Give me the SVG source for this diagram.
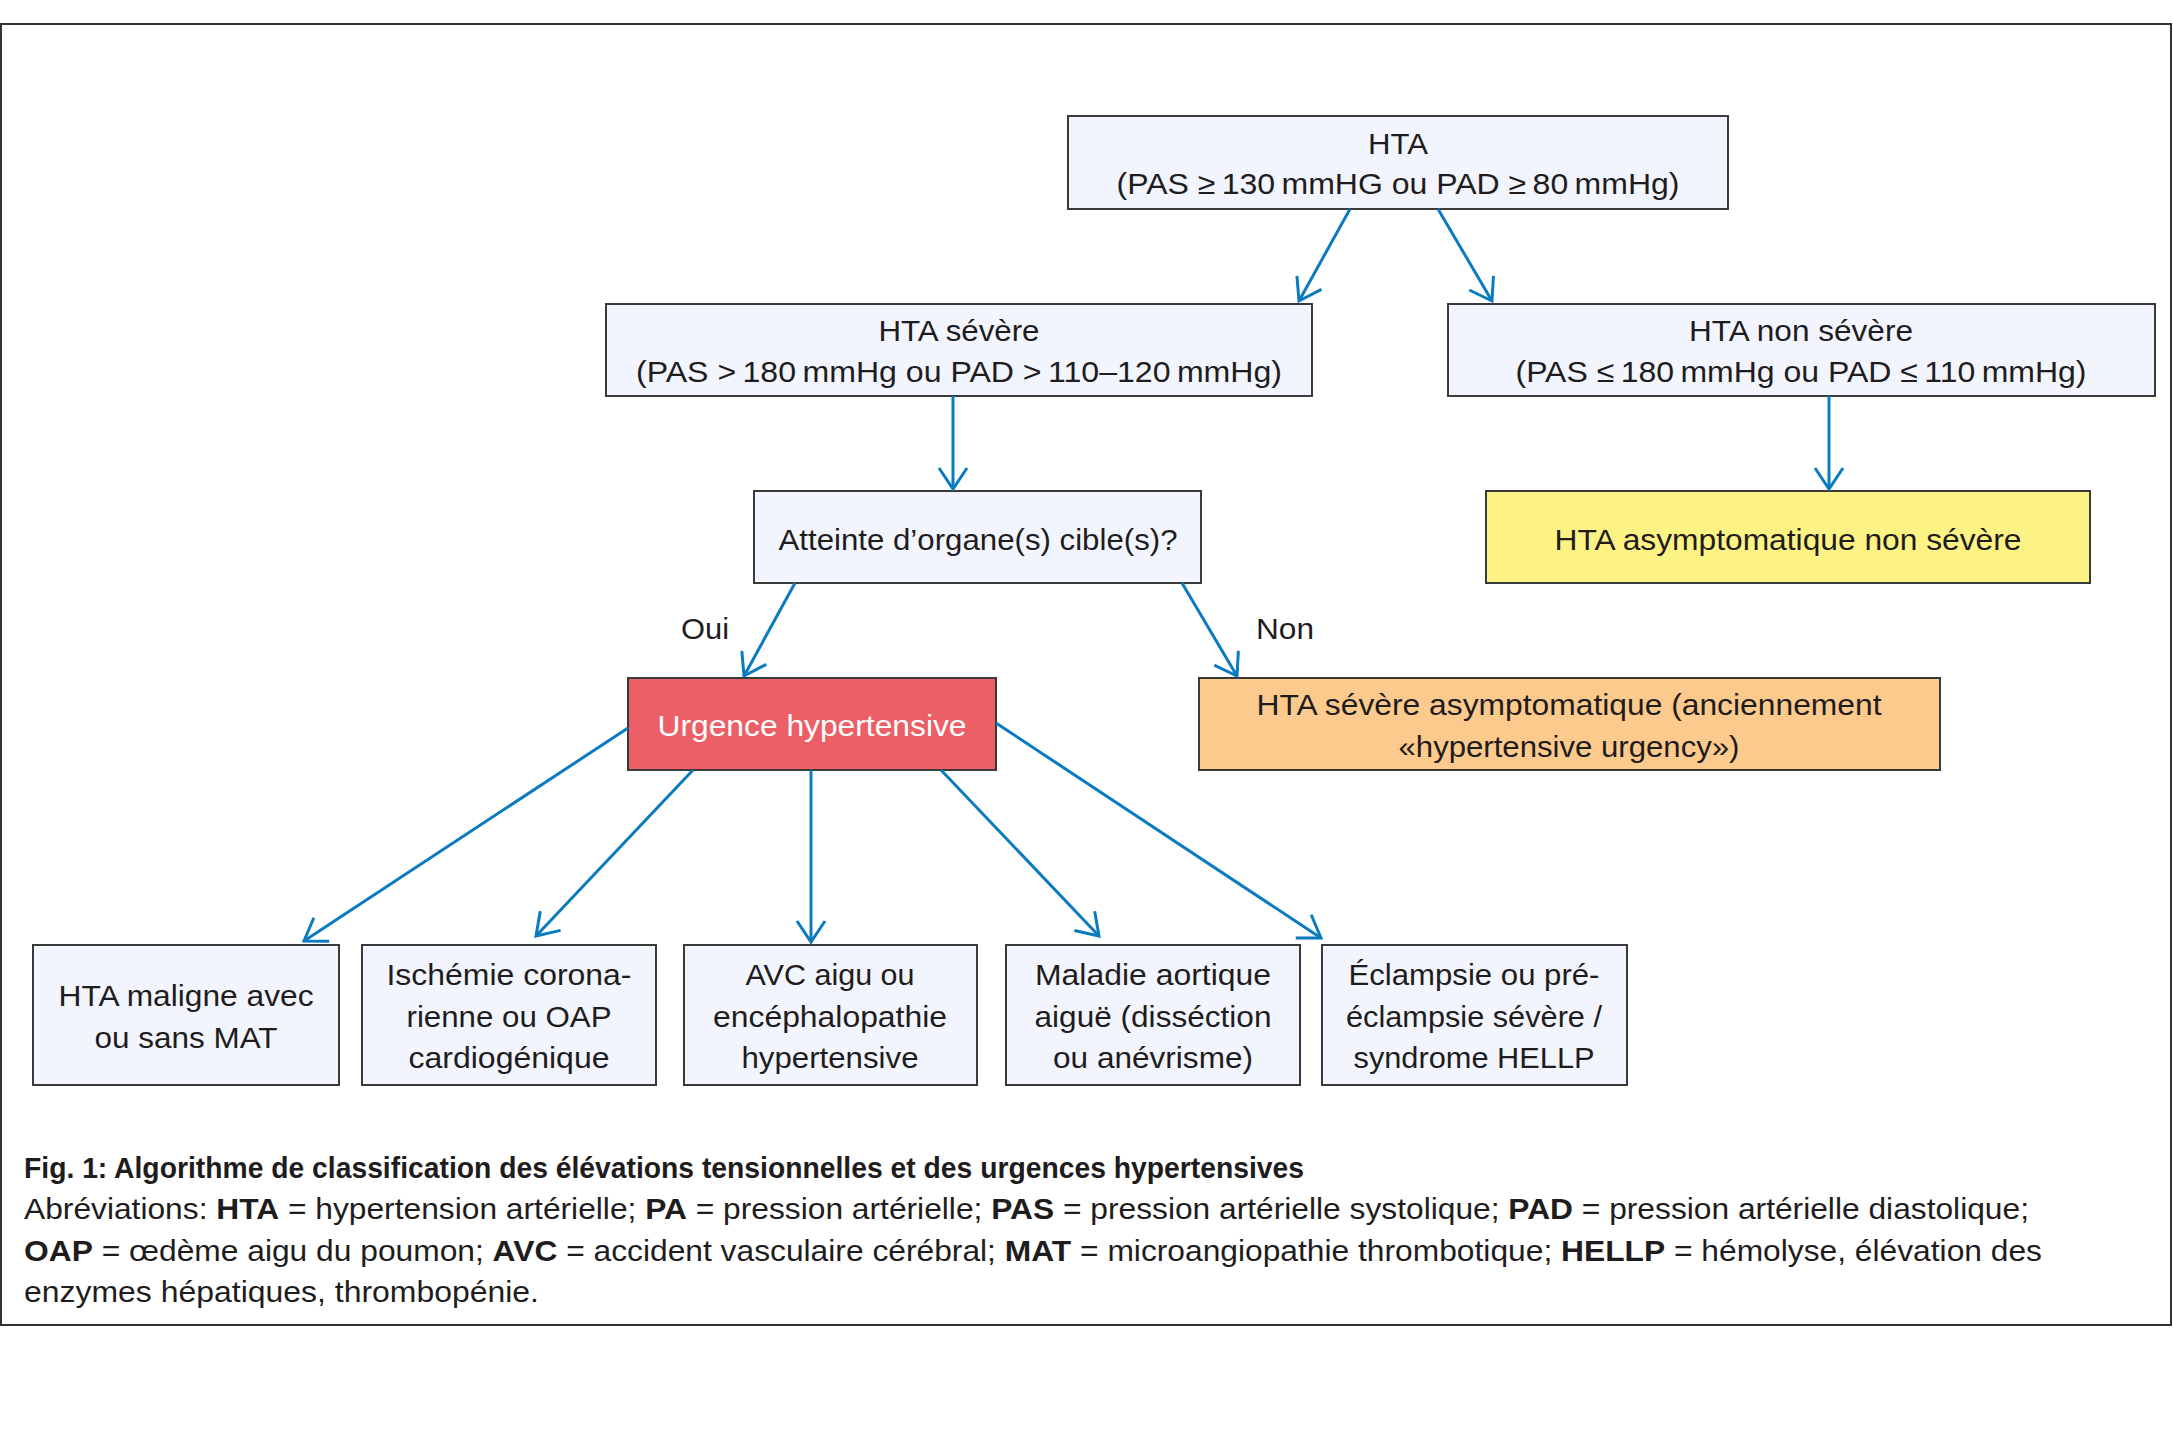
<svg xmlns="http://www.w3.org/2000/svg" width="2173" height="1441" viewBox="0 0 2173 1441">
<style>
text{font-family:"Liberation Sans",Arial,sans-serif;font-size:30px;fill:#1f1c1d}
.c{text-anchor:middle}
.box{fill:#f2f5fd;stroke:#3a3a3a;stroke-width:2}
.conn line{stroke:#0b7bc0;stroke-width:3;fill:none;marker-end:url(#arr)}
.b{font-weight:bold}
</style>
<defs>
<marker id="arr" markerUnits="userSpaceOnUse" markerWidth="40" markerHeight="40" viewBox="-25 -20 30 40" refX="0" refY="0" orient="auto" overflow="visible">
<path d="M-21,-14 L0,0 L-21,14" fill="none" stroke="#0b7bc0" stroke-width="3"/>
</marker>
</defs>
<rect x="0" y="0" width="2173" height="1441" fill="#fff"/>
<rect x="1" y="24" width="2170" height="1301" fill="#fff" stroke="#333" stroke-width="2"/>

<g id="n-hta"><rect class="box" x="1068" y="116" width="660" height="93"/>
<text class="c" x="1398" y="154" textLength="60" lengthAdjust="spacingAndGlyphs">HTA</text>
<text class="c" x="1398" y="194" textLength="563" lengthAdjust="spacingAndGlyphs">(PAS ≥&#8201;130&#8201;mmHG ou PAD ≥&#8201;80&#8201;mmHg)</text></g>

<g id="n-severe"><rect class="box" x="606" y="304" width="706" height="92"/>
<text class="c" x="959" y="341" textLength="161" lengthAdjust="spacingAndGlyphs">HTA sévère</text>
<text class="c" x="959" y="382" textLength="646" lengthAdjust="spacingAndGlyphs">(PAS &gt;&#8201;180&#8201;mmHg ou PAD &gt;&#8201;110–120&#8201;mmHg)</text></g>

<g id="n-nonsevere"><rect class="box" x="1448" y="304" width="707" height="92"/>
<text class="c" x="1801" y="341" textLength="224" lengthAdjust="spacingAndGlyphs">HTA non sévère</text>
<text class="c" x="1801" y="382" textLength="571" lengthAdjust="spacingAndGlyphs">(PAS ≤&#8201;180&#8201;mmHg ou PAD ≤&#8201;110&#8201;mmHg)</text></g>

<g id="n-atteinte"><rect class="box" x="754" y="491" width="447" height="92"/>
<text class="c" x="978" y="550" textLength="399" lengthAdjust="spacingAndGlyphs">Atteinte d’organe(s) cible(s)?</text></g>

<g id="n-asympt"><rect x="1486" y="491" width="604" height="92" fill="#fdf384" stroke="#3a3a3a" stroke-width="2"/>
<text class="c" x="1788" y="550" textLength="467" lengthAdjust="spacingAndGlyphs">HTA asymptomatique non sévère</text></g>

<g id="n-urgence"><rect x="628" y="678" width="368" height="92" fill="#ec5f67" stroke="#3a3a3a" stroke-width="2"/>
<text class="c" x="812" y="736" style="fill:#fff" textLength="309" lengthAdjust="spacingAndGlyphs">Urgence hypertensive</text></g>

<g id="n-urgency"><rect x="1199" y="678" width="741" height="92" fill="#fdca8d" stroke="#3a3a3a" stroke-width="2"/>
<text class="c" x="1569" y="715" textLength="625" lengthAdjust="spacingAndGlyphs">HTA sévère asymptomatique (anciennement</text>
<text class="c" x="1569" y="757" textLength="341" lengthAdjust="spacingAndGlyphs">«hypertensive urgency»)</text></g>

<g id="n-b1"><rect class="box" x="33" y="945" width="306" height="140"/>
<text class="c" x="186" y="1006" textLength="255" lengthAdjust="spacingAndGlyphs">HTA maligne avec</text>
<text class="c" x="186" y="1048" textLength="183" lengthAdjust="spacingAndGlyphs">ou sans MAT</text></g>

<g id="n-b2"><rect class="box" x="362" y="945" width="294" height="140"/>
<text class="c" x="509" y="985" textLength="245" lengthAdjust="spacingAndGlyphs">Ischémie corona-</text>
<text class="c" x="509" y="1027" textLength="205" lengthAdjust="spacingAndGlyphs">rienne ou OAP</text>
<text class="c" x="509" y="1068" textLength="201" lengthAdjust="spacingAndGlyphs">cardiogénique</text></g>

<g id="n-b3"><rect class="box" x="684" y="945" width="293" height="140"/>
<text class="c" x="830" y="985" textLength="169" lengthAdjust="spacingAndGlyphs">AVC aigu ou</text>
<text class="c" x="830" y="1027" textLength="234" lengthAdjust="spacingAndGlyphs">encéphalopathie</text>
<text class="c" x="830" y="1068" textLength="177" lengthAdjust="spacingAndGlyphs">hypertensive</text></g>

<g id="n-b4"><rect class="box" x="1006" y="945" width="294" height="140"/>
<text class="c" x="1153" y="985" textLength="236" lengthAdjust="spacingAndGlyphs">Maladie aortique</text>
<text class="c" x="1153" y="1027" textLength="237" lengthAdjust="spacingAndGlyphs">aiguë (disséction</text>
<text class="c" x="1153" y="1068" textLength="200" lengthAdjust="spacingAndGlyphs">ou anévrisme)</text></g>

<g id="n-b5"><rect class="box" x="1322" y="945" width="305" height="140"/>
<text class="c" x="1474" y="985" textLength="251" lengthAdjust="spacingAndGlyphs">Éclampsie ou pré-</text>
<text class="c" x="1474" y="1027" textLength="256" lengthAdjust="spacingAndGlyphs">éclampsie sévère /</text>
<text class="c" x="1474" y="1068" textLength="241" lengthAdjust="spacingAndGlyphs">syndrome HELLP</text></g>

<g class="conn" id="connectors">
<line x1="1350" y1="209" x2="1299" y2="301"/>
<line x1="1438" y1="209" x2="1492" y2="301"/>
<line x1="953" y1="396" x2="953" y2="489"/>
<line x1="1829" y1="396" x2="1829" y2="489"/>
<line x1="795" y1="583" x2="744" y2="676"/>
<line x1="1182" y1="583" x2="1237" y2="676"/>
<line x1="628" y1="728" x2="304" y2="941"/>
<line x1="693" y1="770" x2="536" y2="936"/>
<line x1="811" y1="770" x2="811" y2="942"/>
<line x1="941" y1="770" x2="1099" y2="936"/>
<line x1="996" y1="723" x2="1321" y2="938"/>
</g>
<text class="c" x="705" y="639" textLength="48" lengthAdjust="spacingAndGlyphs">Oui</text>
<text class="c" x="1285" y="639" textLength="58" lengthAdjust="spacingAndGlyphs">Non</text>

<g id="caption">
<text x="24" y="1178" class="b" textLength="1280" lengthAdjust="spacingAndGlyphs">Fig. 1: Algorithme de classification des élévations tensionnelles et des urgences hypertensives</text>
<text x="24" y="1219" textLength="2005" lengthAdjust="spacingAndGlyphs">Abréviations: <tspan class="b">HTA</tspan> = hypertension artérielle; <tspan class="b">PA</tspan> = pression artérielle; <tspan class="b">PAS</tspan> = pression artérielle systolique; <tspan class="b">PAD</tspan> = pression artérielle diastolique;</text>
<text x="24" y="1261" textLength="2018" lengthAdjust="spacingAndGlyphs"><tspan class="b">OAP</tspan> = œdème aigu du poumon; <tspan class="b">AVC</tspan> = accident vasculaire cérébral; <tspan class="b">MAT</tspan> = microangiopathie thrombotique; <tspan class="b">HELLP</tspan> = hémolyse, élévation des</text>
<text x="24" y="1302" textLength="515" lengthAdjust="spacingAndGlyphs">enzymes hépatiques, thrombopénie.</text>
</g>
</svg>
